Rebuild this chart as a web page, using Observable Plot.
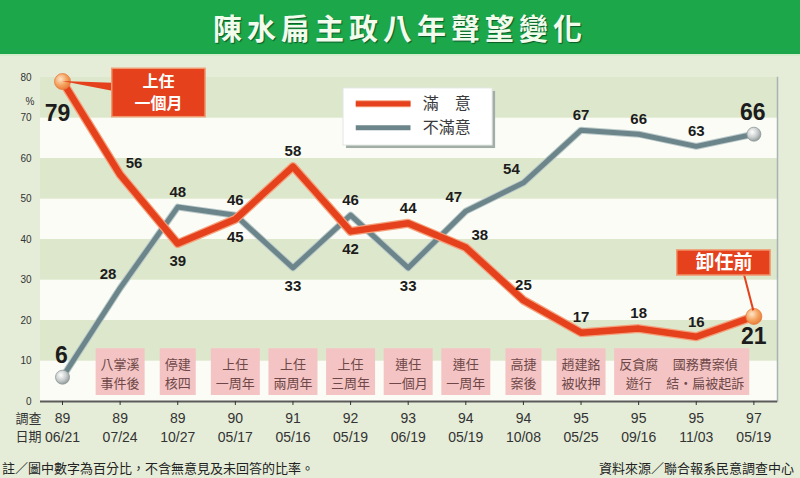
<!DOCTYPE html>
<html><head><meta charset="utf-8">
<script src="https://cdn.jsdelivr.net/npm/d3@7"></script>
<script src="https://cdn.jsdelivr.net/npm/@observablehq/plot@0.6"></script>
<style>
body{margin:0;width:800px;height:478px;overflow:hidden;background:#e5edd8;font-family:"Noto Sans CJK TC",sans-serif;}
#title{height:54px;background:#1ca74b;border-bottom:2px solid #d6ebcc;color:#f2fcec;font-size:29px;font-weight:700;text-align:center;line-height:54px;letter-spacing:5px;text-shadow:1px 1px 1px #0b5a26;}
#chart{height:395px}
#foot{position:relative;height:27px;font-size:13px;color:#222;}
#foot span{position:absolute;top:7px;white-space:nowrap}
</style></head><body>
<div id="title">陳水扁主政八年聲望變化</div>
<div id="chart"></div>
<div id="foot"><span style="left:2px">註／圖中數字為百分比，不含無意見及未回答的比率。</span><span style="right:6px">資料來源／聯合報系民意調查中心</span></div>
<script>
// ---- data ----
const years = ["89","89","89","90","91","92","93","94","94","95","95","95","97"];
const dates = ["06/21","07/24","10/27","05/17","05/16","05/19","06/19","05/19","10/08","05/25","09/16","11/03","05/19"];
const satisfied    = [79,56,39,45,58,42,44,38,25,17,18,16,21];
const dissatisfied = [6,28,48,46,33,46,33,47,54,67,66,63,66];
const events = ["","八掌溪\n事件後","停建\n核四","上任\n一周年","上任\n兩周年","上任\n三周年","連任\n一個月","連任\n一周年","高捷\n案後","趙建銘\n被收押","反貪腐\n遊行","國務費案偵\n結‧扁被起訴",""];
const yTicks = [0,10,20,30,40,50,60,70,80];
const seriesNames = ["滿　意","不滿意"];

// ---- label placement (style) ----
const redPlace  = ["bigBL","ar","b","b","a","b","a","ar","a","a","a","a","bigB"];
const grayPlace = ["bigA","al","a","a","b","a","b","al","al","a","a","a","bigA"];
const offsets = {a:[0,-15], b:[0,18], ar:[14,-12], al:[-12,-14], bigBL:[-5,32], bigB:[0,20], bigA:[-1,-22]};

const RED = "#e4411c", RED_HALO = "#f5a07c", GRAY = "#6b858b", GRAY_HALO = "#bccaca";
const NUMFONT = "'Liberation Sans', Arial, sans-serif";
const CJK = "'Noto Sans CJK TC', sans-serif";

const idx = d3.range(years.length);
const red = idx.map(i => ({i, v: satisfied[i], place: redPlace[i]}));
const gray = idx.map(i => ({i, v: dissatisfied[i], place: grayPlace[i]}));
const ends = d => d.i === 0 || d.i === idx.length - 1;
const evRows = idx.filter(i => events[i]).map(i => ({i, label: events[i],
  w: d3.max(events[i].split("\n"), s => s.length) * 13 + 10}));
const stripes = yTicks.slice(0, -1).map((y, k) => ({y1: y, y2: y + 10, fill: k % 2 ? "#dde7cc" : "#fafcf5"}));

function labelMarks(rows) {
  return Object.keys(offsets).map(code => {
    const big = code.startsWith("big");
    return Plot.text(rows.filter(d => d.place === code), {
      x: "i", y: "v", text: d => String(d.v), dx: offsets[code][0], dy: offsets[code][1],
      fontSize: big ? 23 : 15, fontWeight: 700, fill: "#1c1c1c", fontFamily: NUMFONT
    });
  });
}

const plot = Plot.plot({
  width: 800, height: 395,
  marginLeft: 40, marginRight: 23, marginTop: 21, marginBottom: 50,
  x: {type: "linear", domain: [-0.382, 12.41]},
  y: {domain: [0, 80]},
  style: {background: "transparent", fontFamily: NUMFONT},
  marks: [
    Plot.rect(stripes, {y1: "y1", y2: "y2", fill: "fill"}),
    Plot.frame({anchor: "right", stroke: "#a8b3b5", strokeWidth: 1.5}),
    Plot.ruleY([0], {stroke: "#5a5a5a", strokeWidth: 2}),
    // event boxes
    Plot.ruleX(evRows.filter(d => d.i !== 11), {x: "i", y1: 1.5, y2: 13, stroke: "#f4c4c4", strokeWidth: "w"}),
    Plot.ruleX(evRows.filter(d => d.i === 11), {x: "i", y1: 1.5, y2: 13, stroke: "#f4c4c4", strokeWidth: "w", dx: 9}),
    Plot.text(evRows.filter(d => d.i !== 11), {x: "i", y: 7.2, text: "label", fontSize: 13, lineHeight: 1.45, fill: "#6e4848", fontFamily: CJK}),
    Plot.text(evRows.filter(d => d.i === 11), {x: "i", y: 7.2, text: "label", fontSize: 13, lineHeight: 1.45, fill: "#6e4848", fontFamily: CJK, dx: 9}),
    // legend
    Plot.rect([0], {x1: 4.878, x2: 7.465, y1: 63.2, y2: 77.3, fill: "#a3ada8", dx: 3, dy: 3}),
    Plot.rect([0], {x1: 4.878, x2: 7.465, y1: 63.2, y2: 77.3, fill: "#ffffff", stroke: "#e2e7e2"}),
    Plot.link([0], {x1: 5.09, x2: 6.04, y1: 73.5, y2: 73.5, stroke: RED_HALO, strokeWidth: 7}),
    Plot.link([0], {x1: 5.09, x2: 6.04, y1: 73.5, y2: 73.5, stroke: RED, strokeWidth: 5}),
    Plot.link([0], {x1: 5.09, x2: 6.04, y1: 67.6, y2: 67.6, stroke: GRAY, strokeWidth: 5}),
    Plot.text(seriesNames, {x: 6.67, y: (d, k) => k ? 67.6 : 73.5, text: d => d, fontSize: 16, fill: "#3a3a3a", fontFamily: CJK}),
    // lines
    Plot.line(gray, {x: "i", y: "v", stroke: GRAY_HALO, strokeWidth: 7, strokeLinejoin: "round"}),
    Plot.line(gray, {x: "i", y: "v", stroke: GRAY, strokeWidth: 5, strokeLinejoin: "round"}),
    Plot.line(red, {x: "i", y: "v", stroke: RED_HALO, strokeWidth: 9, strokeLinejoin: "round"}),
    Plot.line(red, {x: "i", y: "v", stroke: RED, strokeWidth: 6.5, strokeLinejoin: "round"}),
    Plot.dot(gray.filter(ends), {x: "i", y: "v", r: 7, fill: "url(#gGray)", stroke: "#8e9a9c", strokeWidth: 0.8}),
    Plot.dot(red.filter(ends), {x: "i", y: "v", r: 8, fill: "url(#gOrange)", stroke: "#e8793e", strokeWidth: 0.8}),
    // callout 上任一個月
    Plot.areaY([{x: 0, lo: 79, hi: 79}, {x: 0.87, lo: 76.6, hi: 78.6}], {x: "x", y1: "lo", y2: "hi", fill: RED}),
    Plot.rect([0], {x1: 0.863, x2: 2.483, y1: 70.2, y2: 82.15, fill: RED, stroke: "#f19a72", strokeWidth: 1.5}),
    Plot.text(["上任"], {x: 1.667, y: 78.9, text: d => d, fontSize: 16, fontWeight: 700, fill: "#ffffff", fontFamily: CJK}),
    Plot.text(["一個月"], {x: 1.667, y: 73.4, text: d => d, fontSize: 16, fontWeight: 700, fill: "#ffffff", fontFamily: CJK}),
    // callout 卸任前
    Plot.link([0], {x1: 11.83, y1: 31.3, x2: 11.99, y2: 22.5, stroke: RED, strokeWidth: 2}),
    Plot.rect([0], {x1: 10.67, x2: 12.29, y1: 31.1, y2: 37.3, fill: RED, stroke: "#f19a72", strokeWidth: 1.5}),
    Plot.text(["卸任前"], {x: 11.48, y: 34.2, text: d => d, fontSize: 19, fontWeight: 700, fill: "#ffffff", fontFamily: CJK}),
    // value labels
    ...labelMarks(gray),
    ...labelMarks(red),
    // axes
    Plot.axisY({ticks: yTicks, tickSize: 0, tickPadding: 9, fontSize: 10, color: "#333", label: null}),
    Plot.axisX({ticks: idx, tickFormat: i => years[i] + "\n" + dates[i], tickSize: 4, tickPadding: 5, fontSize: 14, lineHeight: 1.3, color: "#333", label: null}),
    Plot.text(["%"], {frameAnchor: "top-left", text: d => d, dx: -15, dy: 20, fontSize: 10, fill: "#333"}),
    Plot.text(["調查\n日期"], {frameAnchor: "bottom-left", text: d => d, dx: -25, dy: 9, lineAnchor: "top", lineHeight: 1.35, fontSize: 13, fill: "#333", fontFamily: CJK})
  ]
});

const ns = "http://www.w3.org/2000/svg";
const defs = document.createElementNS(ns, "defs");
defs.innerHTML = `
<radialGradient id="gOrange" cx="38%" cy="35%" r="70%"><stop offset="0" stop-color="#fde6c9"/><stop offset="0.55" stop-color="#f4a461"/><stop offset="1" stop-color="#e97a35"/></radialGradient>
<radialGradient id="gGray" cx="38%" cy="35%" r="70%"><stop offset="0" stop-color="#ffffff"/><stop offset="0.55" stop-color="#c9cdcd"/><stop offset="1" stop-color="#8f9797"/></radialGradient>`;
plot.insertBefore(defs, plot.firstChild);
document.getElementById("chart").appendChild(plot);
</script>
</body></html>
